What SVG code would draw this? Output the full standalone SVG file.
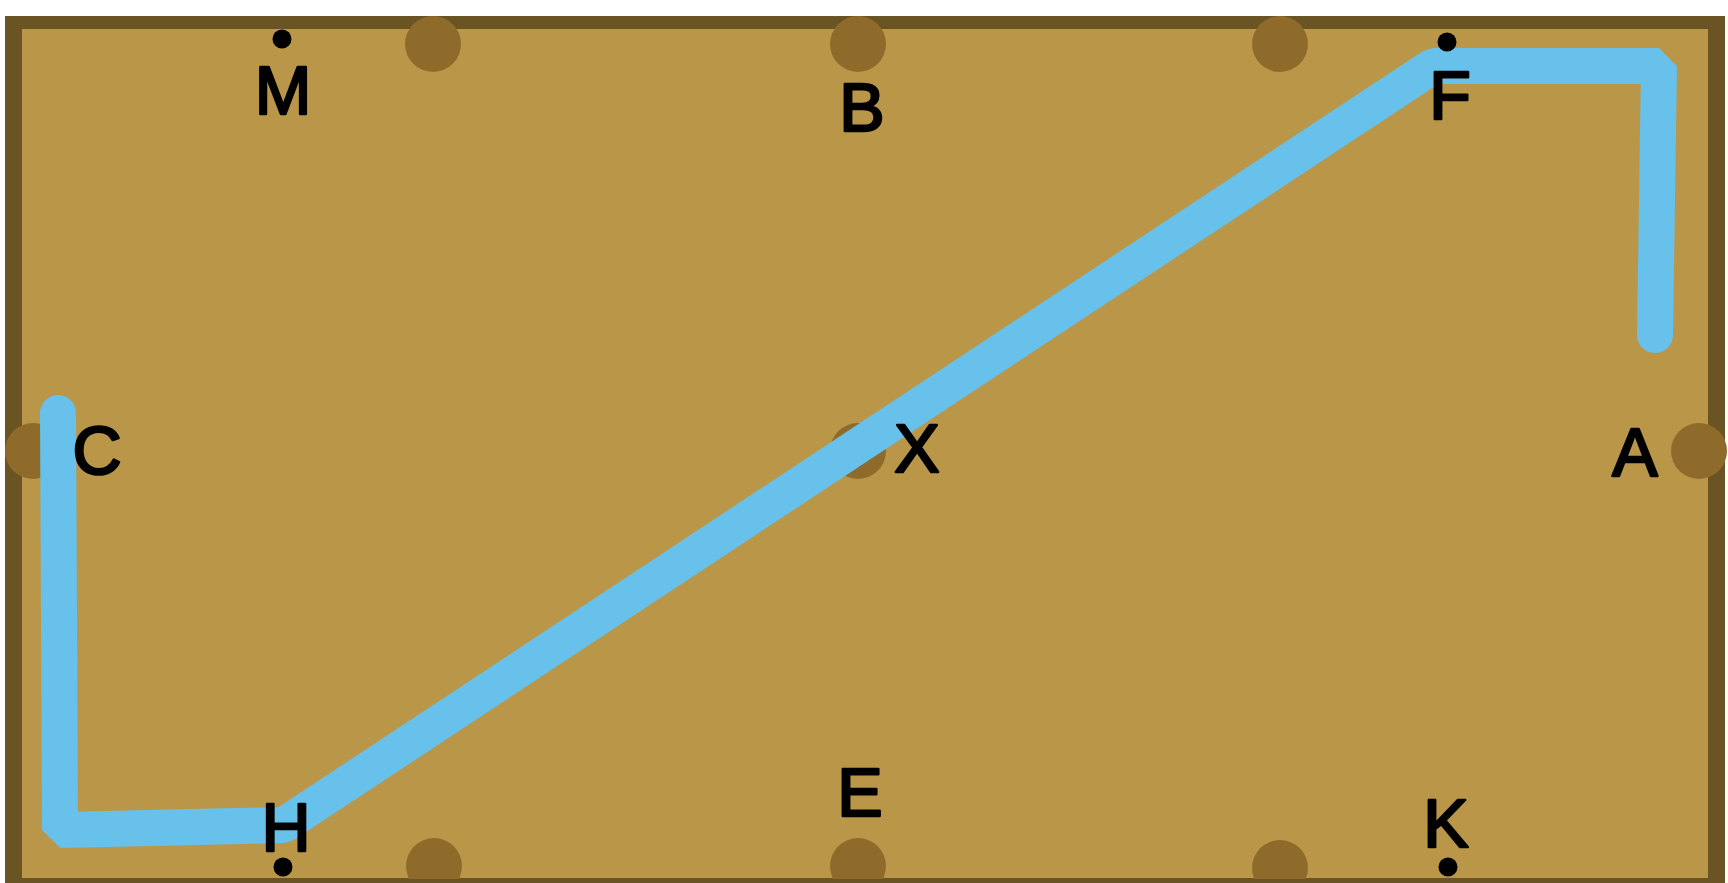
<svg xmlns="http://www.w3.org/2000/svg" width="1728" height="883" viewBox="0 0 1728 883">
  <style>
    .pocket { fill: #8f6b2b; }
    .label { font-family: "Liberation Sans", "DejaVu Sans", sans-serif; font-size: 68px; fill: #000; stroke: #000; stroke-width: 2.5; stroke-linejoin: round; text-anchor: middle; }
    .dot { fill: #000; }
    .path { fill: none; stroke: #67c1eb; stroke-width: 36; stroke-linecap: round; stroke-linejoin: bevel; }
  </style>
  <rect width="1728" height="883" fill="#ffffff"/>
  <g id="table">
    <rect x="5" y="16" width="1720" height="867" fill="#6b5424"/>
    <rect x="22" y="29" width="1686" height="849" fill="#ba9748"/>
  </g>
  <g id="pockets">
    <circle class="pocket" cx="433" cy="44" r="28"/>
    <circle class="pocket" cx="858" cy="44" r="28"/>
    <circle class="pocket" cx="1280" cy="44" r="28"/>
    <circle class="pocket" cx="33" cy="451" r="28"/>
    <circle class="pocket" cx="858" cy="451" r="28"/>
    <circle class="pocket" cx="1699" cy="451" r="28"/>
    <circle class="pocket" cx="434" cy="866" r="28"/>
    <circle class="pocket" cx="858" cy="866" r="28"/>
    <circle class="pocket" cx="1280" cy="868" r="28"/>
  </g>
  <rect x="5" y="879" width="1720" height="4" fill="#6b5424"/>
  <g id="connectors">
    <polyline class="path" points="58,413 60,830 284,825 1433,66 1659,66 1655,335"/>
  </g>
  <g id="node-M"><circle class="dot" cx="282" cy="39" r="9.5"/><text class="label" x="283" y="114">M</text></g>
  <g id="node-B"><text class="label" x="862" y="131">B</text></g>
  <g id="node-F"><circle class="dot" cx="1447" cy="42" r="9.5"/><text class="label" x="1450" y="119">F</text></g>
  <g id="node-C"><text class="label" x="97" y="474">C</text></g>
  <g id="node-X"><text class="label" x="917" y="472">X</text></g>
  <g id="node-A"><text class="label" x="1635" y="476">A</text></g>
  <g id="node-H"><circle class="dot" cx="283" cy="867" r="9.5"/><text class="label" x="286" y="851">H</text></g>
  <g id="node-E"><text class="label" x="860" y="816">E</text></g>
  <g id="node-K"><circle class="dot" cx="1448" cy="867" r="9.5"/><text class="label" x="1446" y="847">K</text></g>
</svg>
